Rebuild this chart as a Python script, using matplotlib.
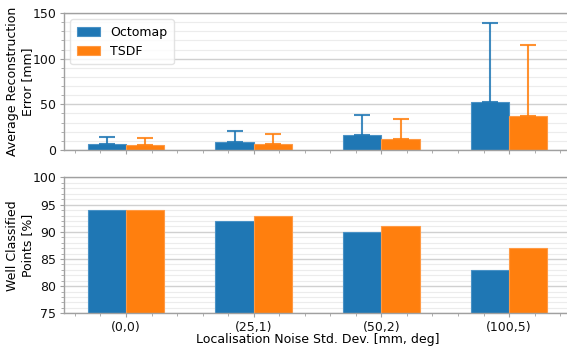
import matplotlib
matplotlib.use("Agg")
import matplotlib.pyplot as plt
from matplotlib.ticker import MultipleLocator
import numpy as np

categories = ["(0,0)", "(25,1)", "(50,2)", "(100,5)"]
series = ["Octomap", "TSDF"]
err_octomap = [6.2, 9.2, 16.4, 52.2]
err_tsdf = [5.8, 6.9, 12.0, 37.6]
err_up_octomap = [8.4, 11.9, 22.3, 87.2]
err_up_tsdf = [7.7, 10.3, 21.6, 77.7]
wc_octomap = [94, 92, 90, 83]
wc_tsdf = [94, 93, 91, 87]

colors = ["#1f77b4", "#ff7f0e"]
edge_colors = ["#4a92c6", "#ff9a45"]
plt.rcParams['font.family'] = ['DejaVu Sans']
plt.rcParams['font.size'] = 9

fig = plt.figure(figsize=(5.67, 3.47), dpi=100)
ax1 = fig.add_axes([0.113, 0.568, 0.894, 0.3945])
ax2 = fig.add_axes([0.113, 0.097, 0.894, 0.3915])

x = np.arange(len(categories))
w = 0.3

def style(ax, major, minor):
    ax.set_xlim(-0.485, 3.485)
    ax.yaxis.set_major_locator(MultipleLocator(major))
    ax.yaxis.set_minor_locator(MultipleLocator(minor))
    ax.xaxis.set_minor_locator(MultipleLocator(0.2))
    ax.grid(which='major', axis='y', color='#d0d0d0', linewidth=1.0)
    ax.grid(which='minor', axis='y', color='#ececec', linewidth=0.8)
    ax.set_axisbelow(True)
    for s in ax.spines.values():
        s.set_color('#a0a0a0')
        s.set_linewidth(1.0)
    ax.tick_params(which='both', color='#a0a0a0', labelcolor='#111111', labelsize=9)
    ax.tick_params(which='major', length=3, width=0.8, pad=2.5)
    ax.tick_params(which='minor', length=2, width=0.6)

# top
for i, (vals, ups) in enumerate([(err_octomap, err_up_octomap), (err_tsdf, err_up_tsdf)]):
    pos = x + (i - 0.5) * w
    ax1.bar(pos, vals, w, color=colors[i], edgecolor=edge_colors[i], linewidth=0.8,
            label=series[i], zorder=2)
    ax1.errorbar(pos, vals, yerr=[np.zeros(len(vals)), ups], fmt='none',
                 ecolor=colors[i], alpha=0.85, elinewidth=1.5, capsize=5.5,
                 capthick=1.5, zorder=3)
ax1.set_ylim(0, 150)
style(ax1, 50, 10)
ax1.set_xticks(x)
ax1.set_xticklabels([])
ax1.set_ylabel("Average Reconstruction\nError [mm]", fontsize=9, labelpad=-1)
leg = ax1.legend(loc='upper left', handlelength=1.9, handleheight=0.7,
                 handletextpad=0.8, borderpad=0.5, labelspacing=0.5, fancybox=True,
                 fontsize=9)
leg.get_frame().set_edgecolor('#dddddd')

# bottom
for i, vals in enumerate([wc_octomap, wc_tsdf]):
    pos = x + (i - 0.5) * w
    ax2.bar(pos, vals, w, color=colors[i], edgecolor=edge_colors[i], linewidth=0.8, zorder=2)
ax2.set_ylim(75, 100)
style(ax2, 5, 1)
ax2.set_xticks(x)
ax2.set_xticklabels(categories)
ax2.set_ylabel("Well Classified\nPoints [%]", fontsize=9, labelpad=-1)
ax2.set_xlabel("Localisation Noise Std. Dev. [mm, deg]", fontsize=9, labelpad=-1)

fig.savefig("out.png", dpi=100)
